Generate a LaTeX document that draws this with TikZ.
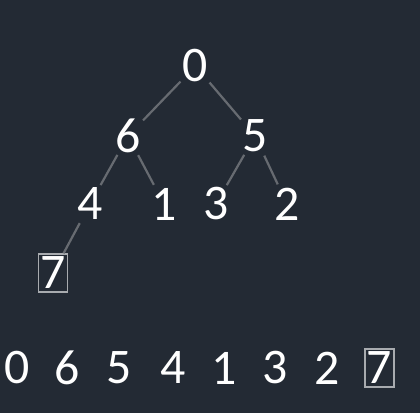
\documentclass[tikz,border=0pt]{standalone}
\usepackage{fontspec}
\setmainfont{Carlito}
\definecolor{bg}{HTML}{232A34}
\definecolor{edgec}{HTML}{676B71}
\definecolor{boxc}{HTML}{A8ABAF}
\begin{document}
\begin{tikzpicture}[x=1bp,y=-1bp,
  num/.style={circle,inner sep=0pt,minimum size=43bp,text=white,font=\fontsize{50}{50}\selectfont},
  boxnum/.style={rectangle,draw=boxc,line width=1.3bp,inner sep=0pt,minimum width=29bp,minimum height=38bp,text=white,font=\fontsize{50}{50}\selectfont},
  link/.style={draw=edgec,line width=2.2bp}]
\fill[bg] (0,0) rectangle (420,413);
\useasboundingbox (0,0) rectangle (420,413);
% tree
\node[num] (t0) at (195.5,66) {0};
\node[num] (t6) at (128,136) {6};
\node[num] (t5) at (255,136) {5};
\node[num] (t4) at (90,204) {4};
\node[num] (t1) at (164,204) {1};
\node[num] (t3) at (216,204) {3};
\node[num] (t2) at (287,204) {2};
\node[boxnum] (t7) at (53,273) {7};
\draw[link] (t0) -- (t6);
\draw[link] (t0) -- (t5);
\draw[link] (t6) -- (t4);
\draw[link] (t6) -- (t1);
\draw[link] (t5) -- (t3);
\draw[link] (t5) -- (t2);
\draw[link] (t4) -- (t7);
% array
\node[num] (a0) at (17.5,368) {0};
\node[num] (a1) at (67.5,368) {6};
\node[num] (a2) at (119,368) {5};
\node[num] (a3) at (173,368) {4};
\node[num] (a4) at (224,368) {1};
\node[num] (a5) at (275,368) {3};
\node[num] (a6) at (327,368) {2};
\node[boxnum] (a7) at (379.5,368) {7};
\end{tikzpicture}
\end{document}
